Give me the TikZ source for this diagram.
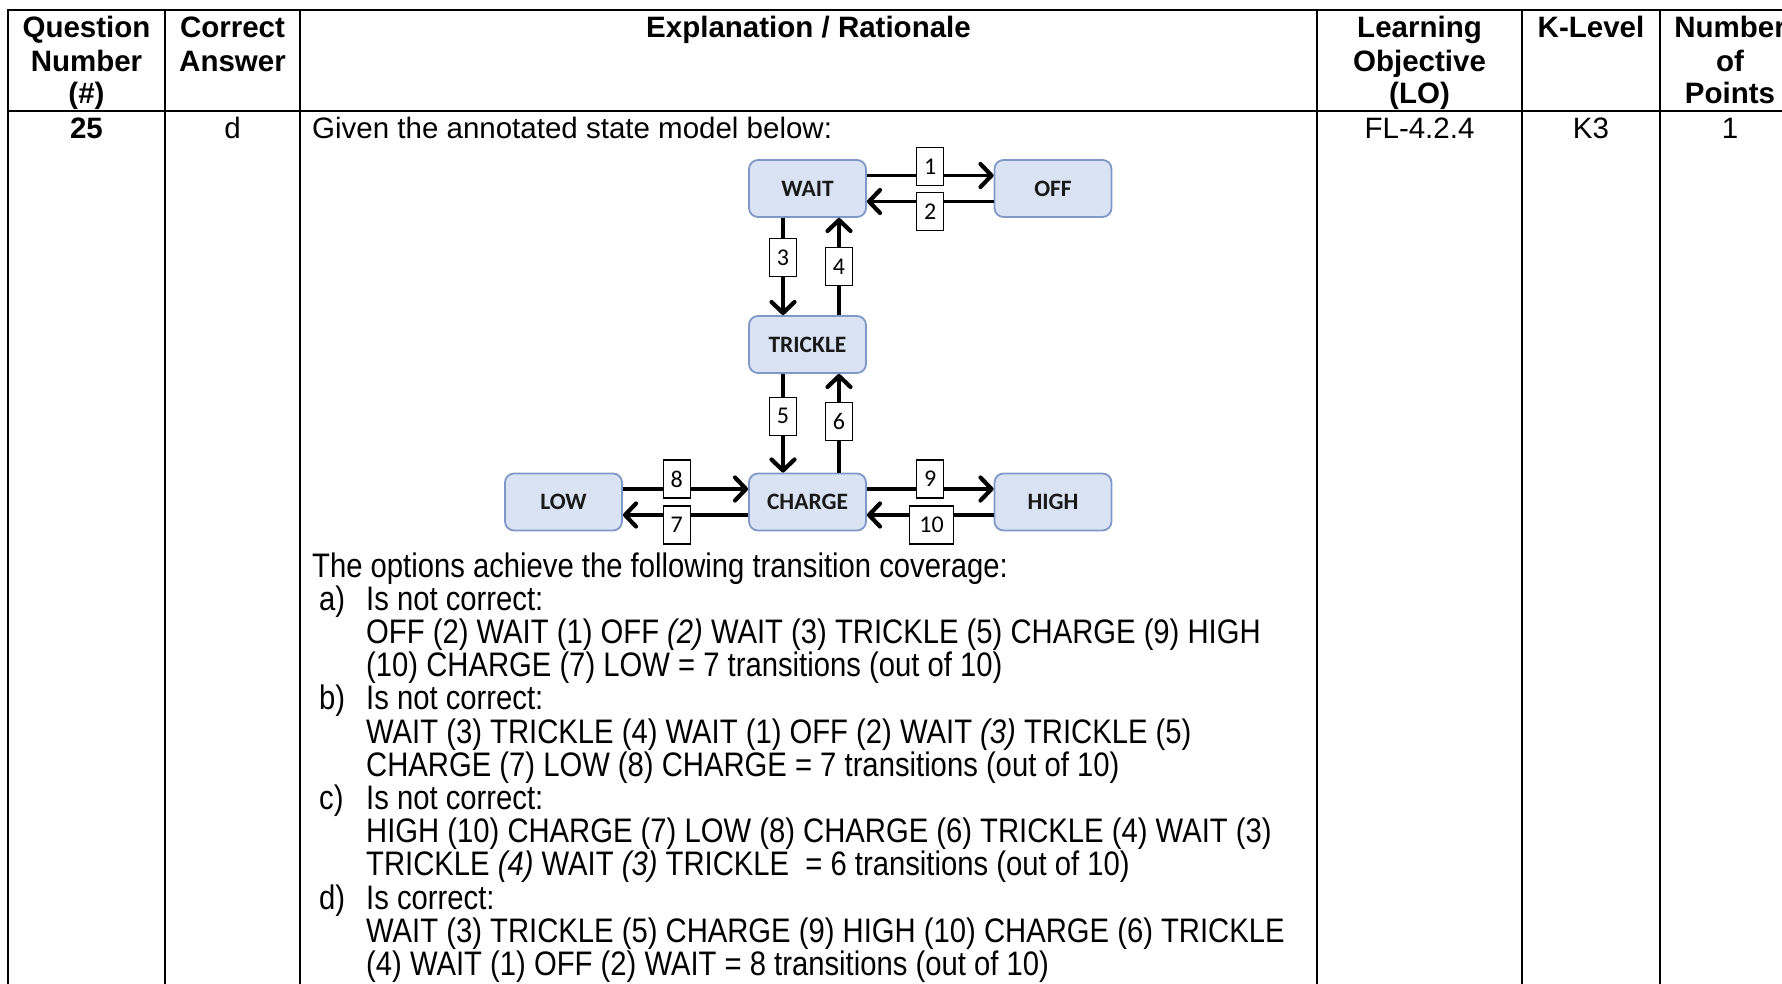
\documentclass[tikz,border=0pt]{standalone}
\usepackage{fontspec}
\setmainfont{Liberation Sans}
\newfontfamily\narrowfont[FakeStretch=0.86]{Liberation Sans}
\newfontfamily\boxfont{Carlito}
\usetikzlibrary{arrows.meta,calc}

\definecolor{statefill}{HTML}{DAE3F3}
\definecolor{stateline}{HTML}{7F98C6}

\begin{document}
\begin{tikzpicture}[x=1pt,y=-1pt,
  grid/.style={line width=2.4pt},
  hdr/.style={font=\fontsize{29.5}{33}\selectfont\bfseries, anchor=base, inner sep=0pt},
  cell/.style={font=\fontsize{29.5}{33}\selectfont, anchor=base, inner sep=0pt},
  opt/.style={font=\narrowfont\fontsize{34}{33}\selectfont, anchor=base west, inner sep=0pt},
  state/.style={draw=stateline, line width=1.8pt, fill=statefill, rounded corners=9pt,
    minimum width=117pt, minimum height=57pt, inner sep=0pt,
    font=\boxfont\fontsize{23.5}{23.5}\selectfont\bfseries, text=black!90},
  tag/.style={draw=black, line width=1.3pt, fill=white, minimum width=27pt, minimum height=38pt,
    inner sep=0pt, font=\boxfont\fontsize{24}{24}\selectfont},
  flow/.style={line width=3.6pt, -{Straight Barb[length=11pt,width=23pt,line width=4.2pt,round]}},
]
\useasboundingbox (0,0) rectangle (1782,984);

% table rules
\draw[grid] (1782,10) -- (8,10) -- (8,984);
\draw[grid] (8,111) -- (1782,111);
\foreach \x in {165,300,1317,1522,1660} \draw[grid] (\x,10) -- (\x,984);

% header row
\node[hdr] (hq1) at (86.5,37.5) {Question};
\node[hdr] (hq2) at (86.5,71.5) {Number};
\node[hdr] (hq3) at (86.5,103.5) {(\#)};
\node[hdr] (ha1) at (232.5,37.5) {Correct};
\node[hdr] (ha2) at (232.5,71.5) {Answer};
\node[hdr] (he1) at (808.5,37.5) {Explanation / Rationale};
\node[hdr] (hl1) at (1419.5,37.5) {Learning};
\node[hdr] (hl2) at (1419.5,71.5) {Objective};
\node[hdr] (hl3) at (1419.5,103.5) {(LO)};
\node[hdr] (hk1) at (1591,37.5) {K-Level};
\node[hdr] (hn1) at (1730,37.5) {Number};
\node[hdr] (hn2) at (1730,71.5) {of};
\node[hdr] (hn3) at (1730,103.5) {Points};

% body row
\node[hdr] (qnum) at (86.5,138.5) {25};
\node[cell] (ans) at (232.5,138.5) {d};
\node[cell, anchor=base west] (intro) at (312,138.5) {Given the annotated state model below:};
\node[cell] (lo) at (1419.5,138.5) {FL-4.2.4};
\node[cell] (klev) at (1591,138.5) {K3};
\node[cell] (pts) at (1730,138.5) {1};

% state model
\node[state] (wait) at (807.5,188.5) {WAIT};
\node[state] (off) at (1053,188.5) {OFF};
\node[state] (trickle) at (807.5,344.5) {TRICKLE};
\node[state] (charge) at (807.5,502) {CHARGE};
\node[state] (low) at (563.5,502) {LOW};
\node[state] (high) at (1053,502) {HIGH};

\draw[flow] ([yshift=13pt]wait.east) -- ([yshift=13pt]off.west)
  node[tag,pos=0.5,yshift=9pt] (t1) {1};
\draw[flow] ([yshift=-13pt]off.west) -- ([yshift=-13pt]wait.east)
  node[tag,pos=0.5,yshift=-10pt] (t2) {2};
\draw[flow] ([xshift=-24.5pt]wait.south) -- ([xshift=-24.5pt]trickle.north)
  node[tag,pos=0.41] (t3) {3};
\draw[flow] ([xshift=31.5pt]trickle.north) -- ([xshift=31.5pt]wait.south)
  node[tag,pos=0.5] (t4) {4};
\draw[flow] ([xshift=-24.5pt]trickle.south) -- ([xshift=-24.5pt]charge.north)
  node[tag,pos=0.43] (t5) {5};
\draw[flow] ([xshift=31.5pt]charge.north) -- ([xshift=31.5pt]trickle.south)
  node[tag,pos=0.52] (t6) {6};
\draw[flow] ([yshift=13pt]low.east) -- ([yshift=13pt]charge.west)
  node[tag,pos=0.43,yshift=10pt] (t8) {8};
\draw[flow] ([yshift=-13pt]charge.west) -- ([yshift=-13pt]low.east)
  node[tag,pos=0.57,yshift=-10pt] (t7) {7};
\draw[flow] ([yshift=13pt]charge.east) -- ([yshift=13pt]high.west)
  node[tag,pos=0.5,yshift=10pt] (t9) {9};
\draw[flow] ([yshift=-13pt]high.west) -- ([yshift=-13pt]charge.east)
  node[tag,pos=0.49,yshift=-10pt,minimum width=44pt] (t10) {10};

% option walk-through
\node[opt] (o0) at (312,577) {The options achieve the following transition coverage:};
\node[opt] (la) at (319,610.2) {a)};
\node[opt] (oa0) at (366,610.2) {Is not correct:};
\node[opt] (oa1) at (366,643.4) {OFF (2) WAIT (1) OFF \textit{(2)} WAIT (3) TRICKLE (5) CHARGE (9) HIGH};
\node[opt] (oa2) at (366,676.6) {(10) CHARGE (7) LOW = 7 transitions (out of 10)};
\node[opt] (lb) at (319,709.8) {b)};
\node[opt] (ob0) at (366,709.8) {Is not correct:};
\node[opt] (ob1) at (366,743) {WAIT (3) TRICKLE (4) WAIT (1) OFF (2) WAIT \textit{(3)} TRICKLE (5)};
\node[opt] (ob2) at (366,776.2) {CHARGE (7) LOW (8) CHARGE = 7 transitions (out of 10)};
\node[opt] (lc) at (319,809.4) {c)};
\node[opt] (oc0) at (366,809.4) {Is not correct:};
\node[opt] (oc1) at (366,842.6) {HIGH (10) CHARGE (7) LOW (8) CHARGE (6) TRICKLE (4) WAIT (3)};
\node[opt] (oc2) at (366,875.8) {TRICKLE \textit{(4)} WAIT \textit{(3)} TRICKLE \ = 6 transitions (out of 10)};
\node[opt] (ld) at (319,909) {d)};
\node[opt] (od0) at (366,909) {Is correct:};
\node[opt] (od1) at (366,942.2) {WAIT (3) TRICKLE (5) CHARGE (9) HIGH (10) CHARGE (6) TRICKLE};
\node[opt] (od2) at (366,975.4) {(4) WAIT (1) OFF (2) WAIT = 8 transitions (out of 10)};
\end{tikzpicture}
\end{document}
